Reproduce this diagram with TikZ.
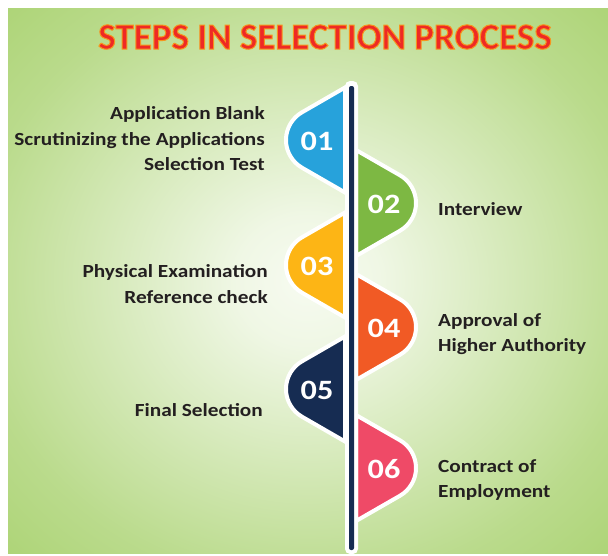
\documentclass[tikz,border=0pt]{standalone}
\usepackage{fontspec}
\setmainfont{Carlito}
\newfontfamily\widefont[FakeStretch=1.15]{Carlito}
\usetikzlibrary{positioning}

\definecolor{bgedge}{HTML}{96C850}
\definecolor{bgmid}{HTML}{C6E1A0}
\definecolor{bgcentre}{HTML}{F7FBF1}
\definecolor{stepblue}{HTML}{27A2DB}
\definecolor{stepgreen}{HTML}{7DB843}
\definecolor{steporange}{HTML}{FDB515}
\definecolor{stepred}{HTML}{F15A25}
\definecolor{stepnavy}{HTML}{162C52}
\definecolor{steppink}{HTML}{EF4A67}
\definecolor{titleedge}{HTML}{F7941D}
\definecolor{labeltext}{HTML}{231F20}

\pgfdeclareradialshading{bgglow}{\pgfpoint{0bp}{0bp}}{color(0bp)=(bgcentre); color(6bp)=(bgcentre!85!bgmid); color(28bp)=(bgmid!75!bgedge); color(50bp)=(bgedge)}

\begin{document}
\begin{tikzpicture}[x=1pt,y=-1pt,
    steptext/.style={font=\widefont\fontsize{18.5}{25.5}\selectfont\bfseries, text=labeltext, inner sep=0pt},
    stepnum/.style={font=\widefont\fontsize{28}{30}\selectfont\bfseries, text=white, inner sep=0pt},
    leaf/.style={draw=white, line width=4pt}]
	\useasboundingbox (0,0) rectangle (608,555);
	\shade[shading=bgglow] (8,8) rectangle (608,553);
	\node[font=\fontsize{37}{40}\selectfont\bfseries, inner sep=0pt, text=titleedge] (title) at (325,37) {\special{pdf:code 0.933 0.165 0.141 rg 0.969 0.58 0.114 RG 1 w 2 Tr}STEPS IN SELECTION PROCESS\special{pdf:code 0 Tr}};
	% left leaves
	\foreach \num/\yc/\col in {01/140/stepblue, 03/265/steporange, 05/389/stepnavy}{
		\draw[leaf, fill=\col] (345,\yc-52.5) -- (302,\yc-27.7) arc[start angle=240, end angle=120, radius=32] -- (345,\yc+52.5) -- cycle;
		\node[stepnum] (n\num) at (317,\yc+1) {\num};
	}
	% right leaves
	\foreach \num/\yc/\col in {02/203/stepgreen, 04/327/stepred, 06/468/steppink}{
		\draw[leaf, fill=\col] (356,\yc-53) -- (400,\yc-27.7) arc[start angle=-60, end angle=60, radius=32] -- (356,\yc+53) -- cycle;
		\node[stepnum] (n\num) at (384,\yc+1) {\num};
	}
	% stem
	\fill[white, rounded corners=5pt] (345,81) rectangle (358,554);
	\fill[stepnavy, rounded corners=2pt] (349,86) rectangle (354,550);
	% labels
	\node[steptext, anchor=east, align=right] (t01) at (265,139) {Application Blank\\Scrutinizing the Applications\\Selection Test};
	\node[steptext, anchor=west] (t02) at (438,209) {Interview};
	\node[steptext, anchor=east, align=right] (t03) at (268,284) {Physical Examination\\Reference check};
	\node[steptext, anchor=west, align=left] (t04) at (438,334) {Approval of\\Higher Authority};
	\node[steptext, anchor=east] (t05) at (263,410) {Final Selection};
	\node[steptext, anchor=west, align=left] (t06) at (438,480) {Contract of\\Employment};
\end{tikzpicture}
\end{document}
